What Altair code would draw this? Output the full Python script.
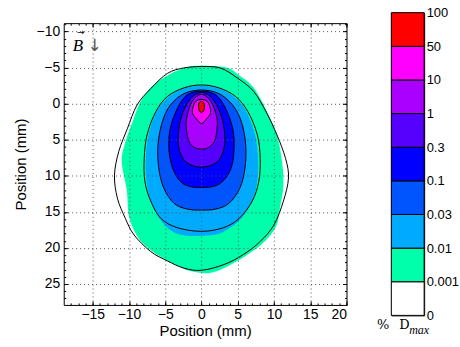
import altair as alt
import pandas as pd

# ---------------- data ----------------
# colour bar
cb_labels = ["0", "0.001", "0.01", "0.03", "0.1", "0.3", "1", "10", "50", "100"]
cb_colors = ["#FFFFFF", "#00FFAA", "#00AAFF", "#0055FF", "#0000FF",
             "#5500FF", "#AA00FF", "#FF00FF", "#FF0000"]

# filled regions (boundary points, clockwise from the top), in mm
fill_0001_x = [0, 3.5, 5.4, 7.2, 9.0, 10.4, 11.1, 11.3, 10.9, 10.3, 8.7, 6.4, 3.5, 1.0,
               -1.5, -2.6, -5.2, -7.5, -8.9, -10.0, -10.3, -11.0, -10.5, -9.5, -8.4, -6.6, -3.8, -1.8]
fill_0001_y = [-5.25, -5.0, -3.8, -2.2, 1.0, 4.3, 8.0, 11.2, 14.0, 17.0, 19.1, 20.9, 22.6, 23.5,
               23.2, 22.8, 21.5, 19.9, 18.3, 15.6, 12.0, 8.0, 5.3, 2.5, -0.3, -2.6, -4.4, -5.1]

fill_001_x = [0, 2.4, 4.6, 6.2, 7.4, 7.8, 7.7, 7.0, 5.5, 3.3, 1.5, -2.0, -4.2, -5.8, -7.0,
              -7.6, -7.7, -7.3, -6.2, -4.6, -2.4]
fill_001_y = [-2.5, -2.1, -0.9, 1.1, 4.3, 7.6, 10.8, 13.5, 15.9, 17.6, 18.2, 18.3, 17.6, 15.9, 13.5,
              10.8, 7.6, 4.3, 1.1, -0.9, -2.1]

# contour lines (boundary points, clockwise from the top), in mm
line_0001_x = [0, 2.6, 4.9, 7.2, 9.0, 10.4, 11.6, 12.0, 11.3, 10.0, 8.1, 5.8, 3.1, 0,
               -2.4, -4.7, -7.0, -9.3, -10.5, -11.6, -12.0, -11.4, -10.2, -8.9, -7.0, -4.7, -2.5]
line_0001_y = [-5.15, -4.95, -3.6, -1.7, 1.3, 4.3, 7.6, 10.3, 13.5, 16.8, 19.1, 20.9, 22.3, 23.1,
               22.8, 21.8, 20.5, 18.2, 15.9, 13.1, 9.9, 6.6, 3.4, 0.2, -2.1, -4.2, -4.95]

line_001_x = [0, 2.4, 4.7, 6.4, 7.7, 8.1, 7.9, 7.0, 5.2, 3.0, 0, -3.3, -5.6, -7.0, -7.8, -7.9,
              -7.5, -6.3, -4.7, -2.4]
line_001_y = [-2.6, -2.2, -1.0, 1.1, 4.3, 7.6, 10.8, 13.5, 15.9, 17.2, 17.7, 17.2, 15.9, 13.5,
              10.8, 7.6, 4.3, 1.1, -1.0, -2.2]

line_003_x = [0, 2.4, 4.3, 5.5, 6.1, 6.0, 5.3, 3.8, 2.0, 0, -2.0, -3.8, -5.2, -5.9, -6.0, -5.4,
              -4.3, -2.4]
line_003_y = [-1.9, -1.4, 0.2, 2.5, 5.7, 8.9, 11.7, 13.8, 14.6, 14.75, 14.6, 13.8, 11.7, 8.9,
              5.7, 2.5, 0.2, -1.4]

line_01_x = [0, 2.0, 3.3, 4.3, 4.5, 4.1, 2.9, 1.5, 0, -1.5, -2.9, -4.0, -4.5, -4.3, -3.3, -2.0]
line_01_y = [-1.75, -1.2, 0.6, 3.4, 6.2, 8.9, 10.8, 11.5, 11.6, 11.5, 10.8, 8.9, 6.2, 3.4, 0.6, -1.2]

line_03_x = [0, 1.5, 2.7, 3.2, 3.0, 2.0, 0, -2.0, -3.0, -3.2, -2.7, -1.5]
line_03_y = [-1.55, -0.7, 1.6, 4.3, 6.6, 8.2, 8.8, 8.2, 6.6, 4.3, 1.6, -0.7]

line_1_x = [0, 1.3, 2.1, 2.15, 1.8, 0.9, 0, -0.9, -1.7, -2.1, -2.0, -1.3]
line_1_y = [-1.3, -0.3, 1.8, 3.4, 5.2, 6.1, 6.3, 6.1, 5.3, 3.4, 1.8, -0.3]

line_10_x = [0, 0.8, 1.2, 1.2, 0.7, 0, -0.7, -1.2, -1.2, -0.8]
line_10_y = [-0.6, -0.3, 0.6, 1.4, 2.1, 2.75, 2.1, 1.4, 0.6, -0.3]

line_50_x = [0, 0.35, 0.4, 0.3, 0, -0.3, -0.4, -0.35]
line_50_y = [-0.35, -0.1, 0.5, 1.0, 1.2, 1.0, 0.5, -0.1]

x_ticks = [-15, -10, -5, 0, 5, 10, 15, 20]
y_ticks = [-10, -5, 0, 5, 10, 15, 20, 25]
x_minor = list(range(-18, 21))
y_minor = list(range(-11, 28))

# ---------------- tables ----------------
def shape(xs, ys, name):
    return pd.DataFrame({"x": xs, "y": ys, "ord": list(range(len(xs))), "c": name})

fills = [
    (shape(fill_0001_x, fill_0001_y, "0.001"), cb_colors[1]),
    (shape(fill_001_x, fill_001_y, "0.01"), cb_colors[2]),
    (shape(line_003_x, line_003_y, "0.03"), cb_colors[3]),
    (shape(line_01_x, line_01_y, "0.1"), cb_colors[4]),
    (shape(line_03_x, line_03_y, "0.3"), cb_colors[5]),
    (shape(line_1_x, line_1_y, "1"), cb_colors[6]),
    (shape(line_10_x, line_10_y, "10"), cb_colors[7]),
    (shape(line_50_x, line_50_y, "50"), cb_colors[8]),
]
lines_df = pd.concat([
    shape(line_0001_x, line_0001_y, "0.001"),
    shape(line_001_x, line_001_y, "0.01"),
    shape(line_003_x, line_003_y, "0.03"),
    shape(line_01_x, line_01_y, "0.1"),
    shape(line_03_x, line_03_y, "0.3"),
    shape(line_1_x, line_1_y, "1"),
    shape(line_10_x, line_10_y, "10"),
    shape(line_50_x, line_50_y, "50"),
], ignore_index=True)

xscale = alt.Scale(domain=[-19, 20], nice=False, zero=False)
yscale = alt.Scale(domain=[-11.17, 27.9], nice=False, zero=False, reverse=True)

grid_kw = dict(grid=True, gridDash=[1, 3], gridColor="#555555", gridWidth=1, gridOpacity=1)
tick_kw = dict(labels=False, domain=False, grid=False, ticks=True, tickColor="black",
               tickWidth=1, title=None, zindex=1)

x_axes = [
    alt.Axis(orient="bottom", values=x_ticks, ticks=False, domain=False, title="Position (mm)",
             labelPadding=3, titlePadding=2, zindex=1, **grid_kw),
    alt.Axis(orient="bottom", values=x_ticks, tickSize=4, offset=-4, **tick_kw),
    alt.Axis(orient="bottom", values=x_minor, tickSize=2, offset=-2, **tick_kw),
    alt.Axis(orient="top", values=x_ticks, tickSize=4, offset=-4, **tick_kw),
    alt.Axis(orient="top", values=x_minor, tickSize=2, offset=-2, **tick_kw),
]
y_axes = [
    alt.Axis(orient="left", values=y_ticks, ticks=False, domain=False, title="Position (mm)",
             labelPadding=4, titlePadding=8, zindex=1, **grid_kw),
    alt.Axis(orient="left", values=y_ticks, tickSize=4, offset=-4, **tick_kw),
    alt.Axis(orient="left", values=y_minor, tickSize=2, offset=-2, **tick_kw),
    alt.Axis(orient="right", values=y_ticks, tickSize=4, offset=-4, **tick_kw),
    alt.Axis(orient="right", values=y_minor, tickSize=2, offset=-2, **tick_kw),
]

layers = []
for i, (df, col) in enumerate(fills):
    xa = x_axes[i] if i < len(x_axes) else None
    ya = y_axes[i] if i < len(y_axes) else None
    layers.append(
        alt.Chart(df).mark_line(interpolate="cardinal-closed", filled=True, color=col,
                                fill=col, strokeWidth=0, opacity=1, fillOpacity=1).encode(
            x=alt.X("x:Q", scale=xscale, axis=xa),
            y=alt.Y("y:Q", scale=yscale, axis=ya),
            order="ord:Q",
        )
    )

layers.append(
    alt.Chart(lines_df).mark_line(interpolate="cardinal-closed", color="black",
                                  strokeWidth=1).encode(
        x=alt.X("x:Q", scale=xscale, axis=None),
        y=alt.Y("y:Q", scale=yscale, axis=None),
        detail="c:N",
        order="ord:Q",
    )
)

one = pd.DataFrame({"a": [0]})
layers.append(alt.Chart(one).mark_text(text="B", font="Liberation Serif", fontStyle="italic",
                                       fontSize=17, align="left", baseline="alphabetic",
                                       color="black").encode(x=alt.value(9), y=alt.value(28)))
layers.append(alt.Chart(one).mark_text(text="\u2192", font="DejaVu Sans", fontSize=9,
                                       align="center", baseline="middle",
                                       color="black").encode(x=alt.value(17), y=alt.value(9)))
layers.append(alt.Chart(one).mark_text(text="\u2193", font="DejaVu Sans", fontSize=17,
                                       align="center", baseline="middle",
                                       color="#555555").encode(x=alt.value(31), y=alt.value(23)))

main = alt.layer(*layers).resolve_axis(x="independent", y="independent").properties(
    width=284, height=283)

# ---------------- colour bar ----------------
cb_df = pd.DataFrame({"i": list(range(9)), "i2": list(range(1, 10)), "col": cb_colors})
label_expr = "[" + ",".join("'%s'" % s for s in cb_labels) + "][datum.value]"
bar = alt.Chart(cb_df).mark_rect(stroke="black", strokeWidth=1).encode(
    x=alt.value(0), x2=alt.value(33),
    y=alt.Y("i:Q", scale=alt.Scale(domain=[0, 9], nice=False, zero=False),
            axis=alt.Axis(orient="right", values=list(range(10)), labelExpr=label_expr,
                          ticks=False, domain=False, grid=False, title=None, labelPadding=2,
                          labelFontSize=13)),
    y2="i2:Q",
    fill=alt.Fill("col:N", scale=None),
)
pct = alt.Chart(one).mark_text(text="%", font="DejaVu Serif", fontSize=13, align="right",
                               baseline="alphabetic", color="black").encode(
    x=alt.value(-2), y=alt.value(318))
dd = alt.Chart(one).mark_text(text="D", font="DejaVu Serif", fontSize=13, align="left",
                              baseline="alphabetic", color="black").encode(
    x=alt.value(8), y=alt.value(318))
mx = alt.Chart(one).mark_text(text="max", font="Liberation Serif", fontStyle="italic", fontSize=12,
                              align="left", baseline="alphabetic", color="black").encode(
    x=alt.value(18), y=alt.value(323))
cbar = alt.layer(bar, pct, dd, mx).properties(width=33, height=304)

chart = alt.hconcat(main, cbar, spacing=45, bounds="flush", center=True).properties(
    padding={"left": 12, "top": 5, "right": 0, "bottom": 5}
).configure_view(stroke="black", strokeWidth=1).configure_axis(
    labelFont="Liberation Sans", labelFontSize=14, labelColor="black",
    titleFont="Liberation Sans", titleFontSize=15, titleFontWeight="normal", titleColor="black",
)

chart.save("out.html", embed_options={"renderer": "svg", "actions": False})
